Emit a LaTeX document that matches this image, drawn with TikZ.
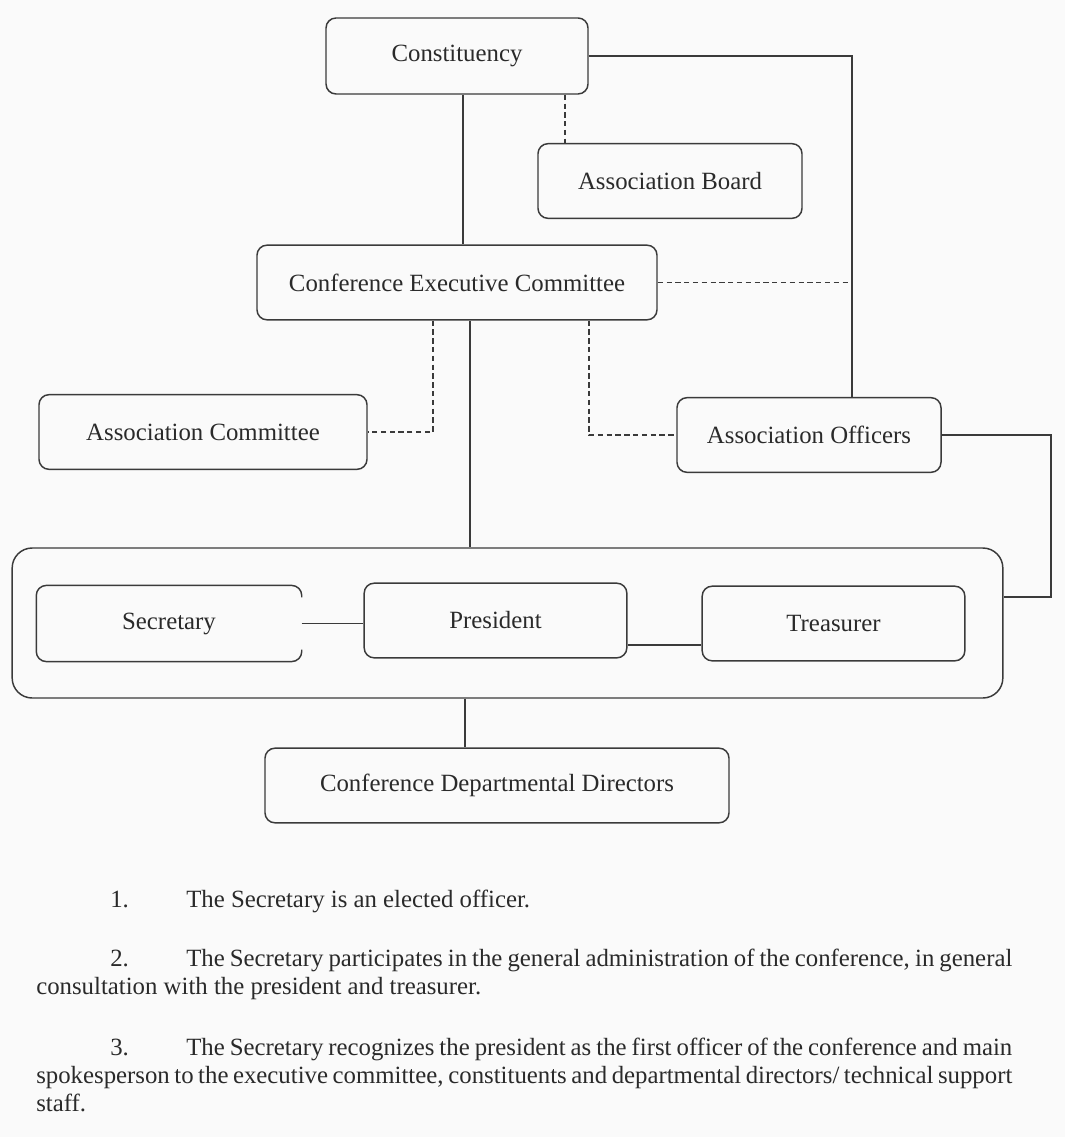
\documentclass[tikz,border=0pt]{standalone}
\usepackage{fontspec}
\setmainfont{Liberation Serif}
\definecolor{inkgray}{HTML}{3A3A3A}
\definecolor{textgray}{HTML}{2A2A2A}
\definecolor{pagebg}{HTML}{FAFAFA}
\begin{document}
\begin{tikzpicture}[x=0.75pt, y=-0.75pt,
    box/.style={rectangle, rounded corners=7.5pt, draw=inkgray, line width=1.1pt, minimum height=56pt, inner sep=0pt, text=textgray, font=\fontsize{18.6}{21}\selectfont},
    link/.style={draw=inkgray, line width=0.9pt},
    dlink/.style={link, line width=1pt, dash pattern=on 4pt off 2.6pt},
    para/.style={anchor=base west, inner sep=0pt, text width=732pt, align=justify, text=textgray, font=\fontsize{18.6}{21}\selectfont}]
      \useasboundingbox (0,0) rectangle (1065,1137);
      \fill[pagebg] (0,0) rectangle (1065,1137);

      % Nodes
      \node (const) [box, minimum width=196.5pt, minimum height=57pt] at (457,56) {Constituency};
      \node (board) [box, minimum width=198pt] at (670,181) {Association Board};
      \node (cec) [box, minimum width=300pt] at (457,282.5) {Conference Executive Committee};
      \node (committee) [box, minimum width=246pt] at (203,432) {Association Committee};
      \node (officers) [box, minimum width=198pt] at (809,435) {Association Officers};
      \node (team) [box, minimum width=743pt, minimum height=112.5pt, rounded corners=15pt] at (507.5,623) {};
      \node (secretary) [box, draw=none, minimum width=198pt] at (169,623.5) {Secretary};
      \node (president) [box, minimum width=197pt] at (495.5,620.5) {President};
      \node (treasurer) [box, minimum width=197pt] at (833.5,623.5) {Treasurer};
      \node (directors) [box, minimum width=348pt] at (497,785.5) {Conference Departmental Directors};

      % Secretary outline, open on the right
      \draw [link, line width=1.1pt, rounded corners=7.5pt] ([yshift=-9pt]secretary.north east) -- (secretary.north east) -- (secretary.north west) -- (secretary.south west) -- (secretary.south east) -- ([yshift=9pt]secretary.south east);

      % Line positions
      \coordinate (cc) at (463,0);
      \coordinate (cb) at (565,0);
      \coordinate (vr) at (852,0);
      \coordinate (ac) at (433,0);
      \coordinate (mid) at (470,0);
      \coordinate (ao) at (589,0);
      \coordinate (rt) at (1051,597);
      \coordinate (pt) at (0,645);
      \coordinate (cd) at (465,0);

      % Lines
      \draw [link] (const.south -| cc) -- (cec.north -| cc);
      \draw [dlink] (const.south -| cb) -- (board.north -| cb);
      \draw [link] (const.east) -| (officers.north -| vr);
      \draw [dlink] (cec.east) -- (cec.east -| vr);
      \draw [dlink] (cec.south -| ac) |- (committee.east);
      \draw [link] (cec.south -| mid) -- (team.north -| mid);
      \draw [dlink] (cec.south -| ao) |- (officers.west);
      \draw [link] (officers.east) -| (rt) -- (rt -| team.east);
      \draw [link] (secretary.east) -- (secretary.east -| president.west);
      \draw [link] (president.east |- pt) -- (treasurer.west |- pt);
      \draw [link] (team.south -| cd) -- (directors.north -| cd);

      % Notes
      \node (note1) [para] at (36,907.7) {\hspace*{55.5pt}\makebox[57pt][l]{1.}The Secretary is an elected officer.};
      \node (note2) [para] at (36,966.5) {\hspace*{55.5pt}\makebox[57pt][l]{2.}The Secretary participates in the general administration of the conference, in general consultation with the president and treasurer.};
      \node (note3) [para] at (36,1055) {\hspace*{55.5pt}\makebox[57pt][l]{3.}The Secretary recognizes the president as the first officer of the conference and main spokesperson to the executive committee, constituents and departmental directors/ technical support staff.};
  \end{tikzpicture}
\end{document}
